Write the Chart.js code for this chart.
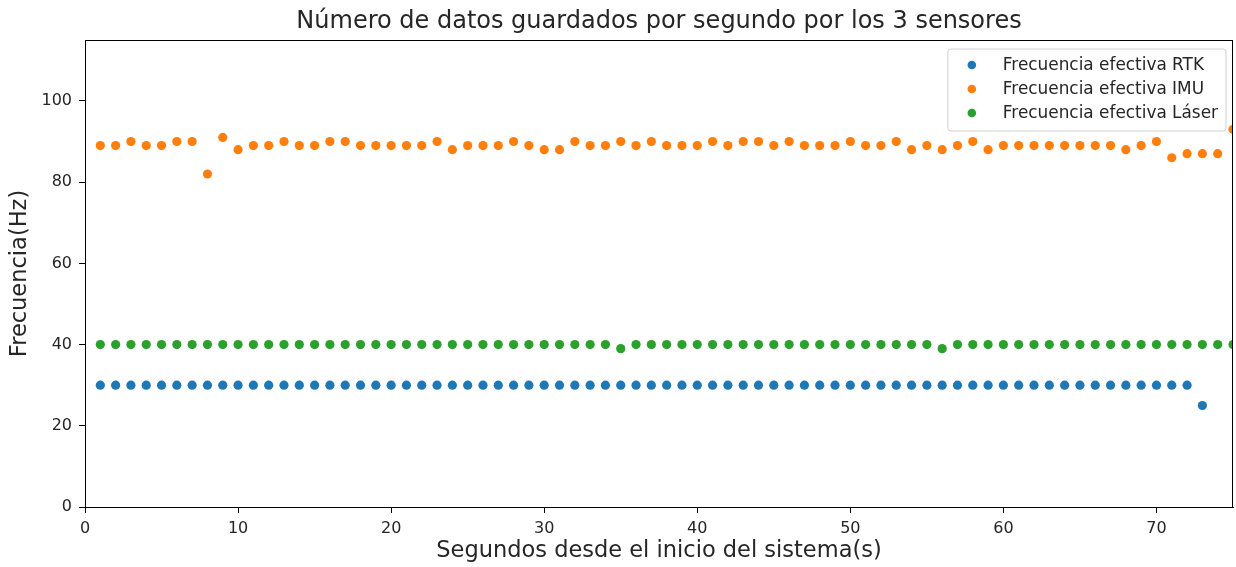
<!DOCTYPE html>
<html lang="es">
<head>
<meta charset="utf-8">
<title>Frecuencia efectiva de los sensores</title>
<script src="https://cdn.jsdelivr.net/npm/chart.js@4.4.1/dist/chart.umd.min.js"></script>
<style>
  html, body { margin: 0; padding: 0; background: #ffffff; }
  #wrap { width: 1236px; height: 567px; }
</style>
</head>
<body>
<div id="wrap"><canvas id="grafico" width="1236" height="567"></canvas></div>
<script>
// Segundos transcurridos desde el arranque del sistema
const segundos = [
  1, 2, 3, 4, 5, 6, 7, 8, 9, 10,
  11, 12, 13, 14, 15, 16, 17, 18, 19, 20,
  21, 22, 23, 24, 25, 26, 27, 28, 29, 30,
  31, 32, 33, 34, 35, 36, 37, 38, 39, 40,
  41, 42, 43, 44, 45, 46, 47, 48, 49, 50,
  51, 52, 53, 54, 55, 56, 57, 58, 59, 60,
  61, 62, 63, 64, 65, 66, 67, 68, 69, 70,
  71, 72, 73, 74, 75
];

// Datos guardados por segundo (Hz) para cada sensor
const frecuenciaRTK = [
  30, 30, 30, 30, 30, 30, 30, 30, 30, 30,
  30, 30, 30, 30, 30, 30, 30, 30, 30, 30,
  30, 30, 30, 30, 30, 30, 30, 30, 30, 30,
  30, 30, 30, 30, 30, 30, 30, 30, 30, 30,
  30, 30, 30, 30, 30, 30, 30, 30, 30, 30,
  30, 30, 30, 30, 30, 30, 30, 30, 30, 30,
  30, 30, 30, 30, 30, 30, 30, 30, 30, 30,
  30, 30, 25
];

const frecuenciaIMU = [
  89, 89, 90, 89, 89, 90, 90, 82, 91, 88,
  89, 89, 90, 89, 89, 90, 90, 89, 89, 89,
  89, 89, 90, 88, 89, 89, 89, 90, 89, 88,
  88, 90, 89, 89, 90, 89, 90, 89, 89, 89,
  90, 89, 90, 90, 89, 90, 89, 89, 89, 90,
  89, 89, 90, 88, 89, 88, 89, 90, 88, 89,
  89, 89, 89, 89, 89, 89, 89, 88, 89, 90,
  86, 87, 87, 87, 93
];

const frecuenciaLaser = [
  40, 40, 40, 40, 40, 40, 40, 40, 40, 40,
  40, 40, 40, 40, 40, 40, 40, 40, 40, 40,
  40, 40, 40, 40, 40, 40, 40, 40, 40, 40,
  40, 40, 40, 40, 39, 40, 40, 40, 40, 40,
  40, 40, 40, 40, 40, 40, 40, 40, 40, 40,
  40, 40, 40, 40, 40, 39, 40, 40, 40, 40,
  40, 40, 40, 40, 40, 40, 40, 40, 40, 40,
  40, 40, 40, 40, 40
];

const etiquetas = [
  'Frecuencia efectiva RTK',
  'Frecuencia efectiva IMU',
  'Frecuencia efectiva Láser'
];
const colores = ['#1f77b4', '#ff7f0e', '#2ca02c'];

// Marcas de los ejes
const ticksX = [0, 10, 20, 30, 40, 50, 60, 70];
const ticksY = [0, 20, 40, 60, 80, 100];

const titulo = 'Número de datos guardados por segundo por los 3 sensores';

const FUENTE = '"DejaVu Sans", "Liberation Sans", sans-serif';
const TEXTO = '#262626';

function puntos(valores) {
  return valores.map((v, i) => ({ x: segundos[i], y: v }));
}

function serie(idx, valores) {
  return {
    label: etiquetas[idx],
    data: puntos(valores),
    backgroundColor: colores[idx],
    borderColor: colores[idx],
    borderWidth: 0,
    pointRadius: 4.6,
    pointHoverRadius: 4.6,
    showLine: false,
    clip: 0,
    order: 3 - idx
  };
}

// Título centrado sobre el área de trazado
const cabecera = {
  id: 'cabecera',
  afterDraw(chart) {
    const { ctx, chartArea: a } = chart;
    ctx.save();
    ctx.font = '24px ' + FUENTE;
    ctx.fillStyle = TEXTO;
    ctx.textAlign = 'center';
    ctx.textBaseline = 'middle';
    ctx.fillText(titulo, (a.left + a.right) / 2, 22);
    ctx.restore();
  }
};

// Marco completo alrededor del área de trazado
const marco = {
  id: 'marco',
  afterDatasetsDraw(chart) {
    const { ctx, chartArea: a } = chart;
    ctx.save();
    ctx.strokeStyle = '#000000';
    ctx.lineWidth = 1;
    ctx.strokeRect(Math.round(a.left) + 0.5, Math.round(a.top) + 0.5,
                   Math.round(a.right - a.left) - 1, Math.round(a.bottom - a.top));
    ctx.restore();
  }
};

// Leyenda dentro del área, esquina superior derecha
const leyenda = {
  id: 'leyenda',
  afterDraw(chart) {
    const { ctx, chartArea: a } = chart;
    const sets = chart.data.datasets;
    ctx.save();
    ctx.font = '16.9px ' + FUENTE;
    let anchoTexto = 0;
    sets.forEach(ds => { anchoTexto = Math.max(anchoTexto, ctx.measureText(ds.label).width); });
    const ancho = 55 + anchoTexto + 8;
    const alto = 82;
    const x0 = a.right - 7 - ancho;
    const y0 = a.top + 9;
    const r = 3;
    ctx.beginPath();
    ctx.moveTo(x0 + r, y0);
    ctx.arcTo(x0 + ancho, y0, x0 + ancho, y0 + alto, r);
    ctx.arcTo(x0 + ancho, y0 + alto, x0, y0 + alto, r);
    ctx.arcTo(x0, y0 + alto, x0, y0, r);
    ctx.arcTo(x0, y0, x0 + ancho, y0, r);
    ctx.closePath();
    ctx.fillStyle = 'rgba(255,255,255,0.8)';
    ctx.fill();
    ctx.strokeStyle = '#d0d0d0';
    ctx.lineWidth = 1;
    ctx.stroke();
    sets.forEach((ds, i) => {
      const yc = y0 + 16 + i * 24;
      ctx.beginPath();
      ctx.arc(x0 + 24, yc, 4.3, 0, Math.PI * 2);
      ctx.fillStyle = ds.backgroundColor;
      ctx.fill();
      ctx.fillStyle = TEXTO;
      ctx.textBaseline = 'middle';
      ctx.textAlign = 'left';
      ctx.fillText(ds.label, x0 + 55, yc + 1);
    });
    ctx.restore();
  }
};

new Chart(document.getElementById('grafico'), {
  type: 'scatter',
  data: {
    datasets: [
      serie(0, frecuenciaRTK),
      serie(1, frecuenciaIMU),
      serie(2, frecuenciaLaser)
    ]
  },
  options: {
    responsive: false,
    animation: false,
    events: [],
    layout: { autoPadding: false, padding: { left: 0, right: 3, top: 40, bottom: 0 } },
    plugins: {
      legend: { display: false },
      tooltip: { enabled: false },
      title: { display: false }
    },
    scales: {
      x: {
        type: 'linear',
        min: 0,
        max: 75,
        afterFit(scale) { scale.height = 60; },
        afterBuildTicks(scale) {
          scale.ticks = ticksX.map(v => ({ value: v }));
        },
        ticks: {
          color: TEXTO,
          font: { family: FUENTE, size: 16 },
          padding: 6,
          maxRotation: 0
        },
        grid: {
          display: true,
          drawOnChartArea: false,
          drawTicks: true,
          tickLength: 6,
          tickColor: '#000000'
        },
        border: { display: true, color: '#000000', width: 1 },
        title: {
          display: true,
          text: 'Segundos desde el inicio del sistema(s)',
          color: TEXTO,
          font: { family: FUENTE, size: 22.5, lineHeight: 1.2 },
          padding: { top: 0, bottom: 2.5 }
        }
      },
      y: {
        type: 'linear',
        min: 0,
        max: 115,
        afterFit(scale) { scale.width = 85; },
        afterBuildTicks(scale) {
          scale.ticks = ticksY.map(v => ({ value: v }));
        },
        ticks: {
          color: TEXTO,
          font: { family: FUENTE, size: 16 },
          padding: 7
        },
        grid: {
          display: true,
          drawOnChartArea: false,
          drawTicks: true,
          tickLength: 6,
          tickColor: '#000000'
        },
        border: { display: true, color: '#000000', width: 1 },
        title: {
          display: true,
          text: 'Frecuencia(Hz)',
          color: TEXTO,
          font: { family: FUENTE, size: 22.5, lineHeight: 1.2 },
          padding: { top: 6.5, bottom: 0 }
        }
      }
    }
  },
  plugins: [marco, leyenda, cabecera]
});
</script>
</body>
</html>
